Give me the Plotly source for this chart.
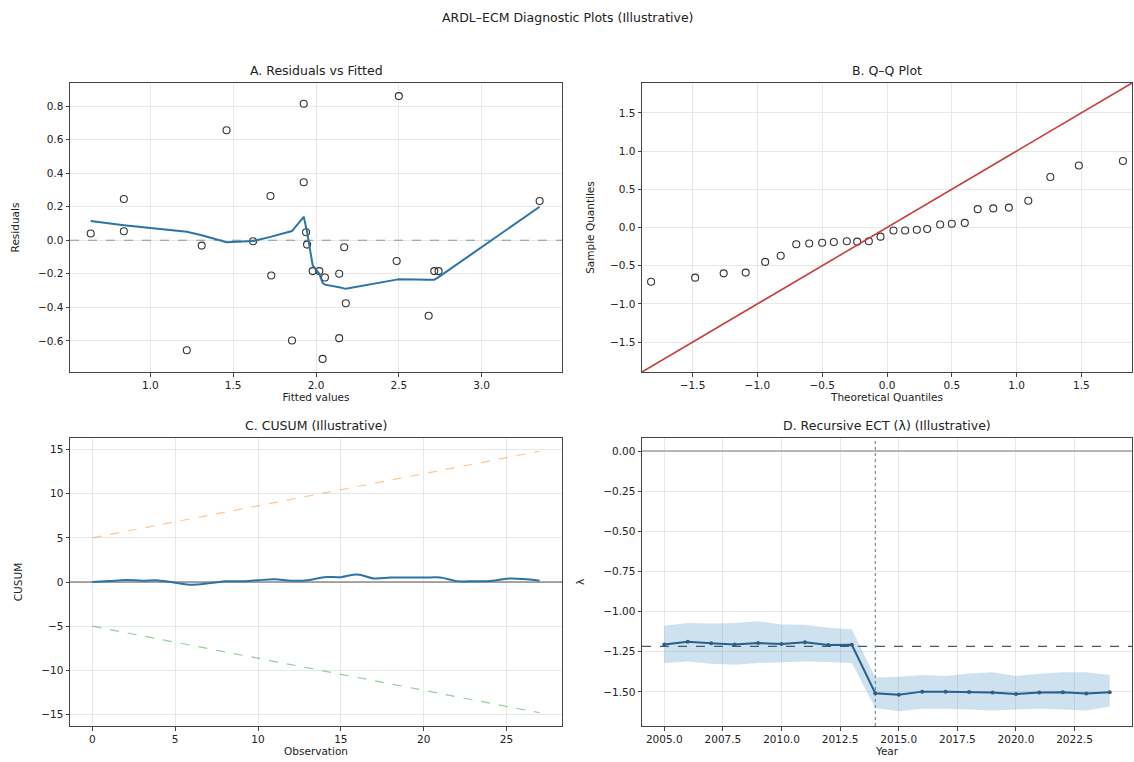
import plotly.graph_objects as go

# ---------------- data ----------------
# A. Residuals vs Fitted
fitted = [0.64, 0.84, 0.84, 1.22, 1.31, 1.46, 1.62, 1.725, 1.73, 1.855, 1.926, 1.926, 1.94, 1.946,
          1.98, 2.02, 2.04, 2.054, 2.14, 2.14, 2.17, 2.18, 2.487, 2.50, 2.68, 2.714, 2.74, 3.35]
residuals = [0.04, 0.246, 0.054, -0.656, -0.032, 0.656, -0.006, 0.264, -0.21, -0.598, 0.814, 0.346, 0.048, -0.026,
             -0.184, -0.184, -0.708, -0.222, -0.2, -0.584, -0.042, -0.376, -0.124, 0.86, -0.45, -0.184, -0.184, 0.234]
lowess_x = [0.64, 0.84, 1.22, 1.31, 1.46, 1.62, 1.725, 1.855, 1.926, 1.946, 1.98, 2.02, 2.04, 2.054,
            2.14, 2.18, 2.487, 2.50, 2.68, 2.714, 2.74, 3.35]
lowess_y = [0.115, 0.09, 0.05, 0.03, -0.012, -0.005, 0.02, 0.055, 0.14, 0.05, -0.15, -0.2, -0.255, -0.265,
            -0.28, -0.29, -0.235, -0.233, -0.235, -0.236, -0.22, 0.2]

# B. Q-Q plot
theoretical_q = [-1.82, -1.48, -1.26, -1.09, -0.94, -0.82, -0.70, -0.60, -0.50, -0.41, -0.31, -0.23, -0.14, -0.05,
                 0.05, 0.14, 0.23, 0.31, 0.41, 0.50, 0.60, 0.70, 0.82, 0.94, 1.09, 1.26, 1.48, 1.82]
sample_q = [-0.71, -0.656, -0.60, -0.59, -0.45, -0.37, -0.22, -0.21, -0.20, -0.19, -0.18, -0.185, -0.18, -0.12,
            -0.04, -0.04, -0.03, -0.02, 0.04, 0.05, 0.06, 0.24, 0.25, 0.26, 0.35, 0.66, 0.81, 0.87]
ref_line = [-1.89, 1.89]

# C. CUSUM
observation = list(range(28))
cusum = [0.0, 0.1, 0.22, 0.15, 0.18, -0.08, -0.3, -0.15, 0.08, 0.08, 0.2, 0.3, 0.15, 0.2,
         0.55, 0.55, 0.85, 0.4, 0.5, 0.52, 0.5, 0.52, 0.1, 0.08, 0.1, 0.38, 0.35, 0.15]
band_obs = [0, 27]
upper_band = [5.0, 14.8]
lower_band = [-5.0, -14.8]

# D. Recursive ECT
years = list(range(2005, 2025))
ect = [-1.204, -1.187, -1.197, -1.204, -1.195, -1.202, -1.19, -1.208, -1.206, -1.508,
       -1.517, -1.498, -1.498, -1.5, -1.504, -1.513, -1.504, -1.502, -1.51, -1.502]
ect_upper = [-1.088, -1.07, -1.074, -1.07, -1.06, -1.08, -1.082, -1.1, -1.11, -1.41,
             -1.405, -1.395, -1.4, -1.385, -1.378, -1.4, -1.387, -1.378, -1.378, -1.395]
ect_lower = [-1.32, -1.31, -1.325, -1.33, -1.32, -1.316, -1.31, -1.314, -1.32, -1.6,
             -1.62, -1.605, -1.605, -1.61, -1.615, -1.61, -1.605, -1.61, -1.615, -1.59]
ect_full = -1.216
break_year = 2014

# tick labels
a_xticks = [1.0, 1.5, 2.0, 2.5, 3.0]
a_xtext = ["1.0", "1.5", "2.0", "2.5", "3.0"]
a_yticks = [0.8, 0.6, 0.4, 0.2, 0.0, -0.2, -0.4, -0.6]
a_ytext = ["0.8", "0.6", "0.4", "0.2", "0.0", "−0.2", "−0.4", "−0.6"]
b_ticks = [-1.5, -1.0, -0.5, 0.0, 0.5, 1.0, 1.5]
b_text = ["−1.5", "−1.0", "−0.5", "0.0", "0.5", "1.0", "1.5"]
c_xticks = [0, 5, 10, 15, 20, 25]
c_xtext = ["0", "5", "10", "15", "20", "25"]
c_yticks = [15, 10, 5, 0, -5, -10, -15]
c_ytext = ["15", "10", "5", "0", "−5", "−10", "−15"]
d_xticks = [2005.0, 2007.5, 2010.0, 2012.5, 2015.0, 2017.5, 2020.0, 2022.5]
d_xtext = ["2005.0", "2007.5", "2010.0", "2012.5", "2015.0", "2017.5", "2020.0", "2022.5"]
d_yticks = [0.0, -0.25, -0.5, -0.75, -1.0, -1.25, -1.5]
d_ytext = ["0.00", "−0.25", "−0.50", "−0.75", "−1.00", "−1.25", "−1.50"]

# ---------------- figure ----------------
W, H = 1134, 762
FONT = "DejaVu Sans"
TXT = "#222222"

def px_x(a, b):
    return [a / W, b / W]

def px_y(top, bottom):
    return [1 - bottom / H, 1 - top / H]

dom = {
    "A": (px_x(70, 562), px_y(83, 372)),
    "B": (px_x(642, 1132), px_y(83, 372)),
    "C": (px_x(70, 562), px_y(438, 726)),
    "D": (px_x(642, 1132), px_y(438, 726)),
}

fig = go.Figure()

marker_open = dict(symbol="circle-open", size=7, color="#333333", line=dict(width=1.1, color="#333333"))

# A
fig.add_trace(go.Scatter(x=[0.515, 3.485], y=[0, 0], mode="lines",
                         line=dict(color="#7f9aa8", width=1, dash="dash"), xaxis="x", yaxis="y"))
fig.add_trace(go.Scatter(x=fitted, y=residuals, mode="markers", marker=marker_open, xaxis="x", yaxis="y"))
fig.add_trace(go.Scatter(x=lowess_x, y=lowess_y, mode="lines", line=dict(color="#2b74a8", width=2),
                         xaxis="x", yaxis="y"))

# B
fig.add_trace(go.Scatter(x=theoretical_q, y=sample_q, mode="markers", marker=marker_open, xaxis="x2", yaxis="y2"))
fig.add_trace(go.Scatter(x=ref_line, y=ref_line, mode="lines", line=dict(color="#c8403a", width=1.6),
                         xaxis="x2", yaxis="y2"))

# C
fig.add_trace(go.Scatter(x=[-1.35, 28.35], y=[0, 0], mode="lines", line=dict(color="#555555", width=1),
                         xaxis="x3", yaxis="y3"))
fig.add_trace(go.Scatter(x=band_obs, y=upper_band, mode="lines",
                         line=dict(color="rgba(255,127,14,0.45)", width=1.2, dash="dash"), xaxis="x3", yaxis="y3"))
fig.add_trace(go.Scatter(x=band_obs, y=lower_band, mode="lines",
                         line=dict(color="rgba(44,160,44,0.5)", width=1.2, dash="dash"), xaxis="x3", yaxis="y3"))
fig.add_trace(go.Scatter(x=observation, y=cusum, mode="lines", line=dict(color="#2b74a8", width=2, shape="spline"),
                         xaxis="x3", yaxis="y3"))

# D
fig.add_trace(go.Scatter(x=years, y=ect_upper, mode="lines", line=dict(width=0, color="rgba(0,0,0,0)"),
                         xaxis="x4", yaxis="y4"))
fig.add_trace(go.Scatter(x=years, y=ect_lower, mode="lines", line=dict(width=0, color="rgba(0,0,0,0)"),
                         fill="tonexty", fillcolor="rgba(31,119,180,0.22)", xaxis="x4", yaxis="y4"))
fig.add_trace(go.Scatter(x=[2004.05, 2024.95], y=[0, 0], mode="lines", line=dict(color="#a0a0a0", width=1.3),
                         xaxis="x4", yaxis="y4"))
fig.add_trace(go.Scatter(x=[2004.05, 2024.95], y=[ect_full, ect_full], mode="lines",
                         line=dict(color="#3d5a73", width=1.2, dash="dash"), xaxis="x4", yaxis="y4"))
fig.add_trace(go.Scatter(x=[break_year, break_year], y=[-1.712, 0.081], mode="lines",
                         line=dict(color="#5f7580", width=1, dash="dot"), xaxis="x4", yaxis="y4"))
fig.add_trace(go.Scatter(x=years, y=ect, mode="lines+markers", line=dict(color="#2a5f8a", width=2),
                         marker=dict(size=4, color="#2a5f8a"), xaxis="x4", yaxis="y4"))

def ax(domain, rng, tickvals, ticktext, title, anchor, standoff):
    return dict(domain=domain, range=rng, tickvals=tickvals, ticktext=ticktext,
                showline=True, mirror=True, linecolor="#444444", linewidth=1,
                ticks="outside", ticklen=3.5, tickcolor="#444444", tickwidth=1,
                showgrid=True, gridcolor="#e8e8e8", gridwidth=1, zeroline=False,
                tickfont=dict(family=FONT, size=10.5, color=TXT),
                title=dict(text=title, font=dict(family=FONT, size=10.5, color=TXT), standoff=standoff),
                anchor=anchor)

fig.update_layout(
    width=W, height=H,
    margin=dict(l=0, r=0, t=0, b=0),
    paper_bgcolor="white", plot_bgcolor="white",
    showlegend=False,
    font=dict(family=FONT, color=TXT),
    xaxis=ax(dom["A"][0], [0.515, 3.485], a_xticks, a_xtext, "Fitted values", "y", 0),
    yaxis=ax(dom["A"][1], [-0.786, 0.938], a_yticks, a_ytext, "Residuals", "x", 16),
    xaxis2=ax(dom["B"][0], [-1.89, 1.89], b_ticks, b_text, "Theoretical Quantiles", "y2", 0),
    yaxis2=ax(dom["B"][1], [-1.89, 1.89], b_ticks, b_text, "Sample Quantiles", "x2", 13),
    xaxis3=ax(dom["C"][0], [-1.35, 28.35], c_xticks, c_xtext, "Observation", "y3", 0),
    yaxis3=ax(dom["C"][1], [-16.3, 16.3], c_yticks, c_ytext, "CUSUM", "x3", 16),
    xaxis4=ax(dom["D"][0], [2004.05, 2024.95], d_xticks, d_xtext, "Year", "y4", 0),
    yaxis4=ax(dom["D"][1], [-1.712, 0.081], d_yticks, d_ytext, "λ", "x4", 16),
)

titles = {
    "A": "A. Residuals vs Fitted",
    "B": "B. Q–Q Plot",
    "C": "C. CUSUM (Illustrative)",
    "D": "D. Recursive ECT (λ) (Illustrative)",
}
for k, t in titles.items():
    xd, yd = dom[k]
    fig.add_annotation(text=t, x=(xd[0] + xd[1]) / 2, y=yd[1], xref="paper", yref="paper",
                       xanchor="center", yanchor="bottom", yshift=3, showarrow=False,
                       font=dict(family=FONT, size=12.5, color=TXT))

fig.add_annotation(text="ARDL–ECM Diagnostic Plots (Illustrative)", x=0.5, y=1 - 17 / H,
                   xref="paper", yref="paper", xanchor="center", yanchor="middle", showarrow=False,
                   font=dict(family=FONT, size=12.5, color=TXT))

fig.write_html("out.html", config={"displayModeBar": False},
               post_script="document.body.style.margin='0';document.body.style.overflow='hidden';")
